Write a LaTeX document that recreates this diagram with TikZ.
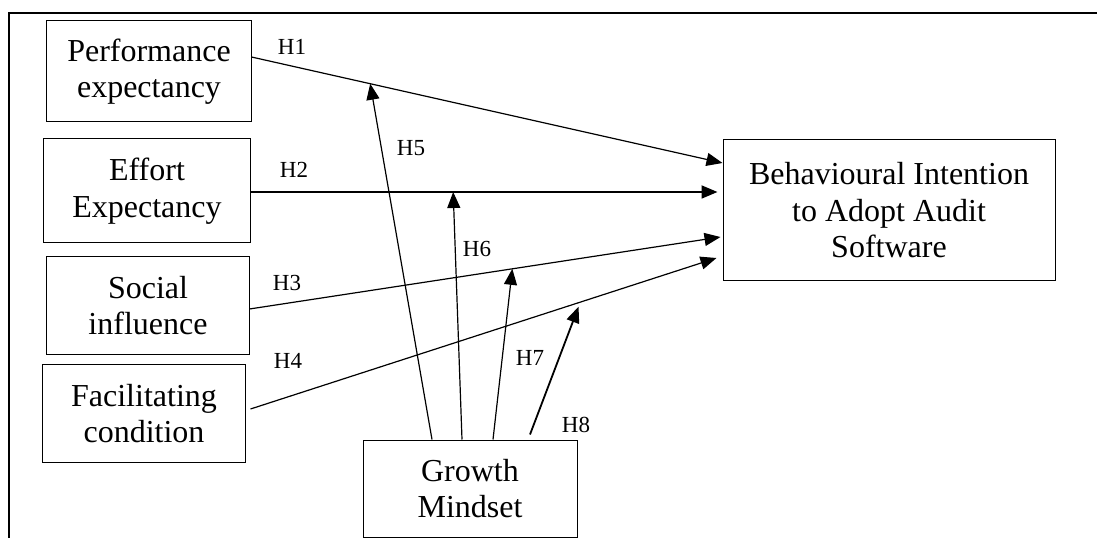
\documentclass[tikz,border=0pt]{standalone}
\usepackage{fontspec}
\setmainfont{Liberation Serif}
\usetikzlibrary{arrows.meta,calc}
\begin{document}
\begin{tikzpicture}[x=1bp,y=-1bp,
  box/.style={draw, line width=1bp, inner sep=0pt, align=center,
    font=\fontsize{32bp}{36.5bp}\selectfont},
  lab/.style={inner sep=0pt, font=\fontsize{23bp}{26bp}\selectfont},
  conn/.style={line width=1.2bp, -{Triangle[length=16bp,width=13bp]}},
  thickconn/.style={conn, line width=1.8bp},
  frame/.style={line width=2.5bp}]
\useasboundingbox (0,0) rectangle (1097,538);
\draw[frame] (9,538) -- (9,13) -- (1097,13);

\node[box, minimum width=204bp, minimum height=101bp] (perf) at (149,71.5) {Performance\\expectancy};
\node[box, minimum width=206bp, minimum height=104bp] (eff) at (147,191) {Effort\\Expectancy};
\node[box, minimum width=202bp, minimum height=97bp] (soc) at (148,305.5) {Social\\influence};
\node[box, minimum width=202bp, minimum height=97bp] (fac) at (144,413.5) {Facilitating\\condition};
\node[box, minimum width=214bp, minimum height=97bp] (gro) at (470,488.5) {Growth\\Mindset};
\node[box, minimum width=332bp, minimum height=141bp] (bi) at (889,210.5) {Behavioural Intention\\to Adopt Audit\\Software};

\draw[conn] ([yshift=14.5bp]perf.east) -- coordinate[pos=0.252] (h5end) ([yshift=47.5bp]bi.west);
\draw[thickconn] ([yshift=-1bp]eff.east) -- coordinate[pos=0.434] (h6end) ([xshift=-5bp,yshift=18.5bp]bi.west);
\draw[conn] ([yshift=-3.5bp]soc.east) -- coordinate[pos=0.558] (h7end) ([xshift=-2bp,yshift=-26.5bp]bi.west);
\draw[conn] ([xshift=5bp,yshift=4.5bp]fac.east) -- coordinate[pos=0.704] (h8end) ([xshift=-6bp,yshift=-47.5bp]bi.west);

\draw[conn] ([xshift=-38bp]gro.north) -- (h5end);
\draw[conn] ([xshift=-8bp]gro.north) -- (h6end);
\draw[conn] ([xshift=23bp]gro.north) -- (h7end);
\draw[thickconn] ([xshift=60bp,yshift=5bp]gro.north) -- ([yshift=-4bp]h8end);

\node[lab] (l1) at (292,47) {H1};
\node[lab] (l2) at (294,170) {H2};
\node[lab] (l3) at (287,282.5) {H3};
\node[lab] (l4) at (288,361) {H4};
\node[lab] (l5) at (411,148) {H5};
\node[lab] (l6) at (477,248.5) {H6};
\node[lab] (l7) at (530,358) {H7};
\node[lab] (l8) at (576,425) {H8};
\end{tikzpicture}
\end{document}
